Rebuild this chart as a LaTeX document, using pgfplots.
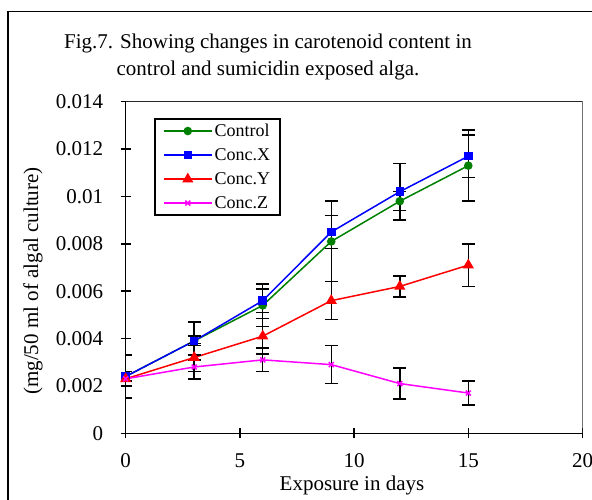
\documentclass[border=0pt]{standalone}
\usepackage{fontspec}
\setmainfont{Liberation Serif}
\usepackage{pgfplots}
\usepackage{pgfplotstable}
\pgfplotsset{compat=1.18}
\definecolor{ctrlgreen}{RGB}{0,128,0}
\definecolor{cxblue}{RGB}{0,0,255}
\definecolor{cyred}{RGB}{255,0,0}
\definecolor{czmag}{RGB}{255,0,255}

% x  mean  error
\pgfplotstableread{
x y e
0 0.0024 0.0009
3 0.0039 0.0008
6 0.0054 0.0009
9 0.0081 0.0017
12 0.0098 0.0004
15 0.0113 0.0015
}\control
\pgfplotstableread{
x y e
0 0.0024 0.0002
3 0.0039 0.0002
6 0.0056 0.0005
9 0.0085 0.0007
12 0.0102 0.0012
15 0.0117 0.0009
}\concx
\pgfplotstableread{
x y e
0 0.0023 0.0003
3 0.0032 0.0006
6 0.0041 0.00075
9 0.0056 0.0008
12 0.0062 0.00045
15 0.0071 0.0009
}\concy
\pgfplotstableread{
x y e
0 0.0023 0.0003
3 0.0028 0.0005
6 0.0031 0.0005
9 0.0029 0.0008
12 0.0021 0.00065
15 0.0017 0.0005
}\concz

\begin{document}
\begin{tikzpicture}
% outer chart frame (cut by the page edge)
\draw[line width=1.5pt] (8pt,-20pt) -- (8pt,487.5pt) -- (640pt,487.5pt);

\node[font=\fontsize{21}{27}\selectfont, align=center] at (268pt,442pt)
  {Fig.7. Showing changes in carotenoid content in\\control and sumicidin exposed alga.};
\node[font=\fontsize{21}{25}\selectfont, rotate=90] at (33pt,218pt) {(mg/50 ml of algal culture)};
\node[font=\fontsize{21}{25}\selectfont, inner sep=0pt] at (352pt,14pt) {Exposure in days};

\begin{axis}[
  at={(125.7pt,65.7pt)}, anchor=south west,
  scale only axis, width=456.8pt, height=331.6pt,
  xmin=0, xmax=20, ymin=0, ymax=0.014,
  xtick={0,5,10,15,20}, ytick={0,0.002,...,0.014},
  scaled y ticks=false,
  yticklabel style={/pgf/number format/fixed, /pgf/number format/precision=3},
  /pgf/number format/assume math mode=true,
  tick label style={font=\fontsize{21}{25}\selectfont},
  yticklabel style={xshift=-14pt},
  xticklabel style={yshift=-12pt},
  axis x line=bottom, axis y line=left,
  axis line style={-, line width=1.5pt, black},
  tick style={line width=1.5pt, black},
  tick align=center, major tick length=10pt,
  legend style={at={(0.0626,0.95)}, anchor=north west, draw=black, line width=1.5pt,
    font=\fontsize{18}{20}\selectfont, row sep=6.5pt, inner xsep=8pt, inner ysep=3pt,
    cells={anchor=west}},
  legend image code/.code={\draw[mark repeat=2, mark phase=2] plot coordinates {(6pt,0pt) (30pt,0pt) (54pt,0pt)};},
  every axis plot/.append style={line width=1.5pt},
  error bars/y dir=both, error bars/y explicit,
  error bars/error bar style={black, line width=1.5pt},
  error bars/error mark options={rotate=90, black, mark size=6.5pt, line width=1.5pt},
]
\draw[line width=1pt, black!85] (rel axis cs:0,1) -- (rel axis cs:1,1) -- (rel axis cs:1,0);
\addplot[ctrlgreen, mark=*, mark size=3.5pt, mark options={fill=ctrlgreen}] table[x=x, y=y, y error=e] {\control};
\addlegendentry{Control}
\addplot[cxblue, mark=square*, mark size=3.5pt, mark options={fill=cxblue}] table[x=x, y=y, y error=e] {\concx};
\addlegendentry{Conc.X}
\addplot[cyred, mark=triangle*, mark size=5pt, mark options={fill=cyred}] table[x=x, y=y, y error=e] {\concy};
\addlegendentry{Conc.Y}
\addplot[czmag, mark=x, mark size=3.5pt] table[x=x, y=y, y error=e] {\concz};
\addlegendentry{Conc.Z}
\end{axis}
\pgfresetboundingbox
\path[use as bounding box] (0pt,0pt) rectangle (592pt,499pt);
\end{tikzpicture}
\end{document}
